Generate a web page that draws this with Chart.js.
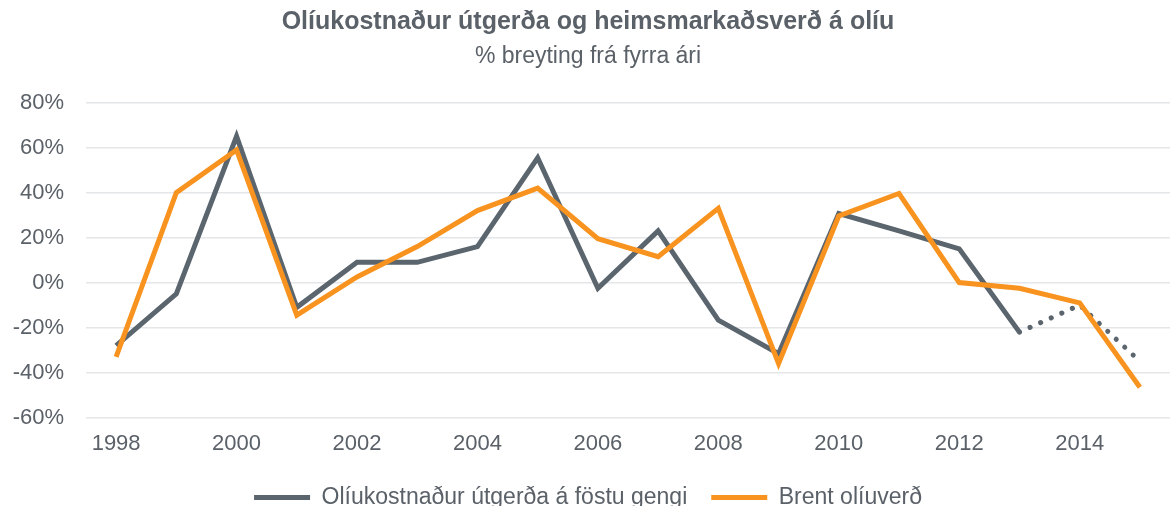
<!DOCTYPE html>
<html>
<head>
<meta charset="utf-8">
<script src="https://cdn.jsdelivr.net/npm/chart.js@4/dist/chart.umd.min.js"></script>
<style>
  html, body { margin: 0; padding: 0; background: #fff; }
  #wrap { width: 1170px; height: 506px; }
</style>
</head>
<body>
<div id="wrap"><canvas id="line-chart"></canvas></div>
<script>
const years = ['1998','1999','2000','2001','2002','2003','2004','2005','2006','2007','2008','2009','2010','2011','2012','2013','2014','2015']
// % breyting frá fyrra ári
const olikostnadur = [-28, -5, 65, -11, 9, 9, 16, 55.5, -2.5, 23, -16.7, -31.6, 30.7, 23, 15, -22, -10, -35]
const brent = [-33, 40, 59, -14.5, 2.5, 16, 32, 42, 19.5, 11.5, 33, -36, 29.6, 39.6, 0, -2.5, -9, -46.5]
const dottedFrom = 15 // frá 2013 er línan punktalína

const textColor = '#5b6168'
const grayLine = '#5b656e'
const orangeLine = '#f7931e'

const initChart = () => {
  const myChart = new Chart(document.getElementById('line-chart'), {
    type: 'line',
    data: {
      labels: years,
      datasets: [
        {
          label: 'Olíukostnaður útgerða á föstu gengi',
          data: olikostnadur,
          borderColor: grayLine,
          backgroundColor: grayLine,
          borderWidth: 5,
          pointRadius: 0,
          tension: 0,
          order: 1,
          segment: {
            borderDash: ctx => ctx.p0DataIndex >= dottedFrom ? [0.1, 11.5] : undefined,
            borderCapStyle: ctx => ctx.p0DataIndex >= dottedFrom ? 'round' : 'butt'
          }
        },
        {
          label: 'Brent olíuverð',
          data: brent,
          borderColor: orangeLine,
          backgroundColor: orangeLine,
          borderWidth: 5,
          pointRadius: 0,
          tension: 0,
          order: 0
        }
      ]
    },
    options: {
      responsive: true,
      maintainAspectRatio: false,
      animation: false,
      layout: { padding: { left: 0, right: -6, top: 0, bottom: -13 } },
      plugins: {
        title: {
          display: true,
          text: 'Olíukostnaður útgerða og heimsmarkaðsverð á olíu',
          color: textColor,
          font: { family: 'Liberation Sans', size: 25, weight: 'bold' },
          padding: { top: 7, bottom: 6 }
        },
        subtitle: {
          display: true,
          text: '% breyting frá fyrra ári',
          color: textColor,
          font: { family: 'Liberation Sans', size: 23 },
          padding: { top: 0, bottom: 32 }
        },
        legend: {
          display: true,
          position: 'bottom',
          labels: {
            color: textColor,
            font: { family: 'Liberation Sans', size: 23 },
            usePointStyle: true,
            pointStyle: 'line',
            pointStyleWidth: 56,
            boxWidth: 56,
            padding: 24,
            sort: (a, b) => a.datasetIndex - b.datasetIndex
          }
        },
        tooltip: { enabled: false }
      },
      scales: {
        x: {
          offset: true,
          grid: { display: false },
          border: { display: false },
          ticks: {
            autoSkip: false,
            maxRotation: 0,
            color: textColor,
            font: { family: 'Liberation Sans', size: 22 },
            padding: 5,
            callback: (val, i) => i % 2 === 0 ? years[i] : ''
          }
        },
        y: {
          min: -60,
          max: 80,
          border: { display: false },
          grid: { color: '#e4e6e8', lineWidth: 1.5, drawTicks: false },
          ticks: {
            stepSize: 20,
            color: textColor,
            font: { family: 'Liberation Sans', size: 22 },
            padding: 22,
            callback: (v) => v + '%'
          },
          afterFit: (scale) => { scale.width = 86 }
        }
      }
    }
  })
}

initChart()
</script>
</body>
</html>
